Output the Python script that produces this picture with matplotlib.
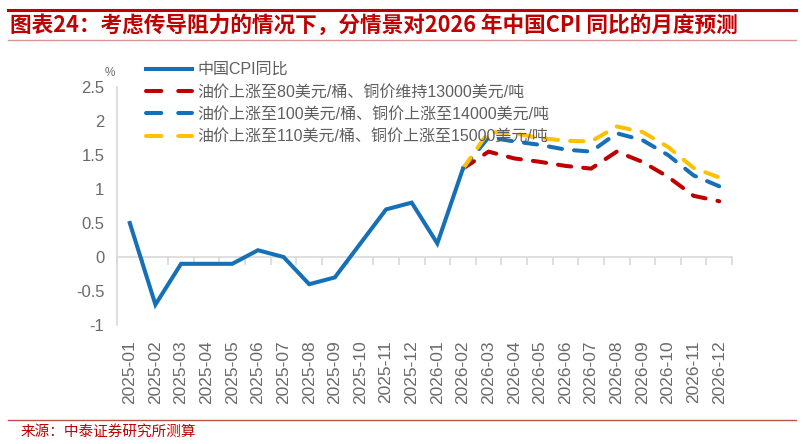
import numpy as np
import matplotlib as mpl
import matplotlib.pyplot as plt
from matplotlib.lines import Line2D

mpl.rcParams['font.family'] = ['Liberation Sans', 'Noto Sans CJK SC', 'DejaVu Sans']

months = ['2025-%02d' % m for m in range(1, 13)] + ['2026-%02d' % m for m in range(1, 13)]

# 中国CPI同比（实际值，至2026-02）
cpi = [0.5, -0.7, -0.1, -0.1, -0.1, 0.1, 0.0, -0.4, -0.3, 0.2, 0.7, 0.8, 0.2, 1.3]
# 三种情景（2026-02 ~ 2026-12）
s80 = [1.3, 1.55, 1.45, 1.4, 1.34, 1.3, 1.55, 1.4, 1.18, 0.9, 0.82]
s100 = [1.3, 1.76, 1.7, 1.65, 1.58, 1.55, 1.82, 1.72, 1.5, 1.2, 1.04]
s110 = [1.3, 1.84, 1.82, 1.75, 1.71, 1.7, 1.92, 1.84, 1.62, 1.31, 1.17]

labels = ['中国CPI同比',
          '油价上涨至80美元/桶、铜价维持13000美元/吨',
          '油价上涨至100美元/桶、铜价上涨至14000美元/吨',
          '油价上涨至110美元/桶、铜价上涨至15000美元/吨']
blue = '#1570b8'
red = '#c00000'
yellow = '#ffc000'
grey = '#5f5f5f'

fig = plt.figure(figsize=(8.04, 4.44), dpi=100)
ax = fig.add_axes([0.1455, 0.268, 0.765, 0.536])

x = np.arange(len(months))
xs = x[13:]
lw = 2.9
dash = (3.3, 3.0)
ax.plot(xs, s80, color=red, lw=lw, dashes=dash, dash_capstyle='round')
ax.plot(xs, s100, color=blue, lw=lw, dashes=dash, dash_capstyle='round')
ax.plot(xs, s110, color=yellow, lw=lw, dashes=dash, dash_capstyle='round')
ax.plot(x[:len(cpi)], cpi, color=blue, lw=lw, solid_joinstyle='miter')

ax.set_xlim(-0.5, len(months) - 0.5)
ax.set_ylim(-1, 2.5)
ax.set_yticks([-1, -0.5, 0, 0.5, 1, 1.5, 2, 2.5])
ax.set_yticklabels(['-1', '-0.5', '0', '0.5', '1', '1.5', '2', '2.5'])
ax.set_xticks(x)
ax.set_xticklabels(months, rotation=90)
ax.tick_params(axis='x', length=0, pad=11, labelsize=12.5, labelcolor='#6a6a6a')
ax.tick_params(axis='y', length=0, pad=9, labelsize=12, labelcolor='#6a6a6a')
for s in ['top', 'right', 'bottom']:
    ax.spines[s].set_visible(False)
ax.spines['left'].set_color('#d9d9d9')
ax.spines['left'].set_linewidth(1.2)

# 零轴，带分类间隔刻度
sec = ax.secondary_xaxis(1 / 3.5)
sec.spines['bottom'].set_color('#d9d9d9')
sec.spines['bottom'].set_linewidth(1.2)
sec.set_xticks(np.arange(-0.5, len(months), 1))
sec.set_xticklabels([])
sec.tick_params(axis='x', length=6, width=1.2, color='#d9d9d9', direction='out')

ax.text(-0.02, 1.045, '%', transform=ax.transAxes, fontsize=8.5, color='#6a6a6a', ha='left')

handles = [Line2D([], [], color=blue, lw=lw),
           Line2D([], [], color=red, lw=lw, dashes=(3.8, 4.2), dash_capstyle='round'),
           Line2D([], [], color=blue, lw=lw, dashes=(3.8, 4.2), dash_capstyle='round'),
           Line2D([], [], color=yellow, lw=lw, dashes=(3.8, 4.2), dash_capstyle='round')]
leg = fig.legend(handles, labels, loc='upper left', bbox_to_anchor=(0.182, 0.86),
                 frameon=False, fontsize=11.5, handlelength=2.85, handletextpad=0.35,
                 labelspacing=0.46, borderpad=0, borderaxespad=0)
for t in leg.get_texts():
    t.set_color(grey)

# 标题与框线
fig.add_artist(Line2D([0.01, 0.99], [0.978, 0.978], color='#c00000', lw=2.2, transform=fig.transFigure))
fig.add_artist(Line2D([0.01, 0.99], [0.91, 0.91], color='#d99594', lw=1.0, transform=fig.transFigure))
fig.text(0.012, 0.944, '图表24：考虑传导阻力的情况下，分情景对2026 年中国CPI 同比的月度预测',
         fontsize=15.6, fontweight='bold', color='#c00000', va='center',
         family=['Noto Sans CJK SC', 'DejaVu Sans'], fontstyle='italic')
fig.add_artist(Line2D([0.01, 0.99], [0.055, 0.055], color='#c0504d', lw=1.0, transform=fig.transFigure))
fig.text(0.025, 0.027, '来源：中泰证券研究所测算', fontsize=10.5, color='#c00000', va='center',
         family=['Noto Sans CJK SC', 'DejaVu Sans'])

fig.savefig('out.png', dpi=100)
